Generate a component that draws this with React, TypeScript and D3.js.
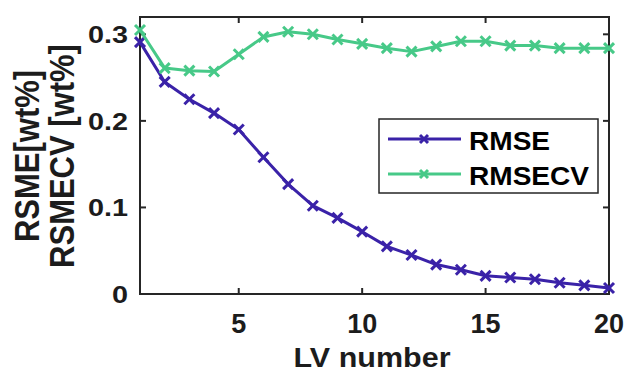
import React from "react";
import * as d3 from "d3";

const lvNumbers = [1,2,3,4,5,6,7,8,9,10,11,12,13,14,15,16,17,18,19,20];
const rmse = [0.291,0.245,0.225,0.209,0.190,0.158,0.127,0.102,0.088,0.072,0.055,0.045,0.034,0.028,0.021,0.019,0.017,0.013,0.010,0.007];
const rmsecv = [0.305,0.261,0.258,0.257,0.277,0.297,0.303,0.300,0.294,0.289,0.284,0.280,0.286,0.292,0.292,0.287,0.287,0.284,0.284,0.284];
const xTicks = [5,10,15,20];
const yTicks = [0,0.1,0.2,0.3];
const seriesNames = ["RMSE","RMSECV"];
const seriesColors = ["#3a22a8","#47c988"];

const W = 627, H = 374;
const L = 140, R = 609, T = 17, B = 294;
const FONT = "'Liberation Sans', Arial, Helvetica, sans-serif";
const TXT = "#1c1c1c";

function XMark({ x, y, color, s = 5 }: { x: number; y: number; color: string; s?: number }) {
  return (
    <g stroke={color} strokeWidth={3}>
      <line x1={x - s} y1={y - s} x2={x + s} y2={y + s} />
      <line x1={x - s} y1={y + s} x2={x + s} y2={y - s} />
    </g>
  );
}

export default function App() {
  const x = d3.scaleLinear().domain([1, 20]).range([L, R]);
  const y = d3.scaleLinear().domain([0, 0.32]).range([B, T]);
  const line = d3.line<number>().x((_, i) => x(lvNumbers[i])).y((d) => y(d));
  const series = [rmse, rmsecv];

  return (
    <svg width={W} height={H} style={{ position: "absolute", left: 0, top: 0, background: "#fff" }} fontFamily={FONT}>
      <rect x={0} y={0} width={W} height={H} fill="#fff" />
      {/* axes box */}
      <rect x={L} y={T} width={R - L} height={B - T} fill="none" stroke="#262626" strokeWidth={2} />
      {xTicks.map((t) => (
        <g key={"xt" + t}>
          <line x1={x(t)} x2={x(t)} y1={B} y2={B - 6} stroke="#262626" strokeWidth={2} />
          <line x1={x(t)} x2={x(t)} y1={T} y2={T + 6} stroke="#262626" strokeWidth={2} />
          <text x={x(t)} y={333} textAnchor="middle" fontSize={27} fontWeight="bold" fill={TXT}>{t}</text>
        </g>
      ))}
      {yTicks.map((t) => (
        <g key={"yt" + t}>
          <line x1={L} x2={L + 6} y1={y(t)} y2={y(t)} stroke="#262626" strokeWidth={2} />
          <line x1={R} x2={R - 6} y1={y(t)} y2={y(t)} stroke="#262626" strokeWidth={2} />
          <text transform={`translate(128,${y(t) + 9}) scale(1.2,1)`} textAnchor="end" fontSize={24} fontWeight="bold" fill={TXT}>{t === 0 ? "0" : t.toFixed(1)}</text>
        </g>
      ))}
      {/* data */}
      {series.map((s, k) => (
        <g key={"s" + k}>
          <path d={line(s) || ""} fill="none" stroke={seriesColors[k]} strokeWidth={3} strokeLinejoin="round" />
          {s.map((v, i) => (
            <XMark key={i} x={x(lvNumbers[i])} y={y(v)} color={seriesColors[k]} />
          ))}
        </g>
      ))}
      {/* axis labels */}
      <text transform="translate(372,367) scale(1.13,1)" textAnchor="middle" fontSize={27} fontWeight="bold" fill={TXT}>LV number</text>
      <text transform="translate(39,156) scale(1.12,1) rotate(-90)" textAnchor="middle" fontSize={31} fontWeight="bold" fill={TXT}>RSME[wt%]</text>
      <text transform="translate(74,156) scale(1.12,1) rotate(-90)" textAnchor="middle" fontSize={31} fontWeight="bold" fill={TXT}>RSMECV [wt%]</text>
      {/* legend */}
      <rect x={379} y={119} width={219} height={74} fill="#fff" stroke="#262626" strokeWidth={1.5} />
      {seriesNames.map((n, k) => {
        const ly = 139 + k * 35;
        return (
          <g key={"lg" + k}>
            <line x1={388} x2={461} y1={ly} y2={ly} stroke={seriesColors[k]} strokeWidth={3} />
            <XMark x={424} y={ly} color={seriesColors[k]} s={4} />
            <text transform={`translate(469,${ly + 11}) scale(1.08,1)`} fontSize={26} fontWeight="bold" fill="#000">{n}</text>
          </g>
        );
      })}
    </svg>
  );
}
